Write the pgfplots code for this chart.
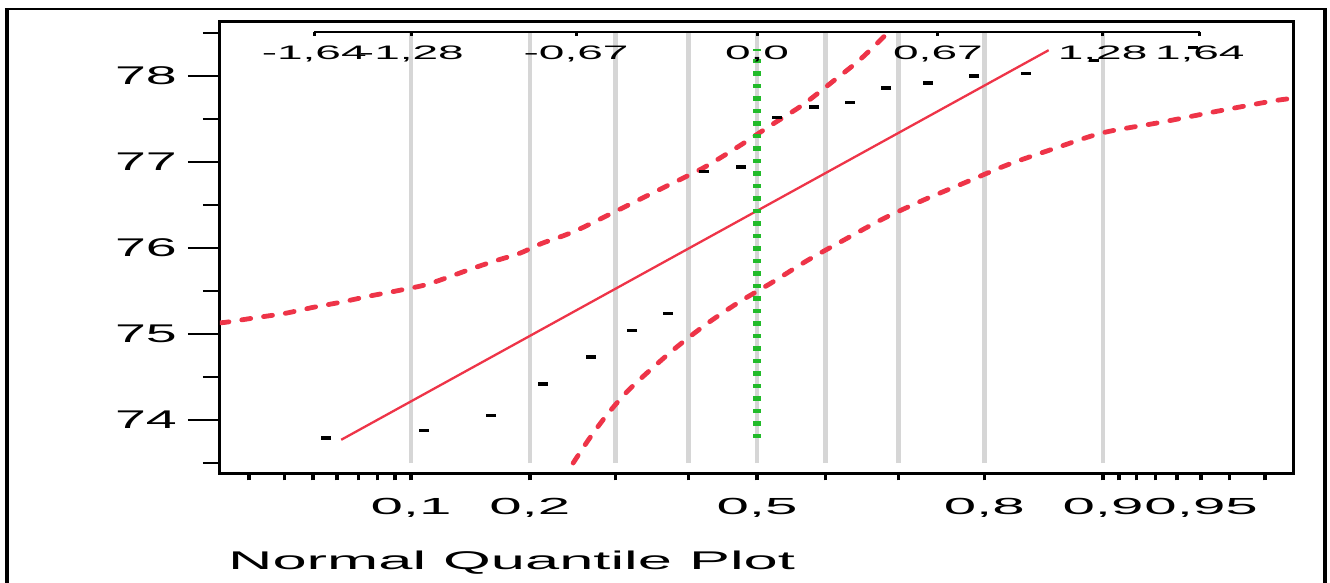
\documentclass[border=0pt]{standalone}
\usepackage{fontspec}
\setmainfont{Liberation Sans}
\newfontfamily\ylabfont[FakeStretch=2.17]{Liberation Sans}
\newfontfamily\xlabfont[FakeStretch=2.5]{Liberation Sans}
\newfontfamily\toplabfont[FakeStretch=2.36]{Liberation Sans}
\newfontfamily\titlefont[FakeStretch=2.4]{Liberation Sans}
\usepackage{pgfplots}
\pgfplotsset{compat=1.18}
\definecolor{jred}{RGB}{238,52,72}
\definecolor{jgreen}{RGB}{34,187,42}
\definecolor{jgray}{RGB}{214,214,214}

\pgfplotstableread{
z v
-1.989 75.13
-1.959 75.14
-1.856 75.19
-1.748 75.24
-1.644 75.31
-1.541 75.37
-1.437 75.44
-1.337 75.50
-1.230 75.57
-1.144 75.66
-1.056 75.76
-0.970 75.85
-0.878 75.94
-0.800 76.05
-0.711 76.15
-0.644 76.24
-0.489 76.48
-0.348 76.70
-0.200 76.93
-0.074 77.17
0.048 77.42
0.167 77.66
0.278 77.93
0.381 78.19
0.474 78.47
}\upperband

\pgfplotstableread{
z v
-0.681 73.50
-0.622 73.78
-0.556 74.06
-0.478 74.34
-0.389 74.60
-0.293 74.86
-0.181 75.13
-0.067 75.37
0.056 75.60
0.189 75.86
0.326 76.10
0.467 76.34
0.611 76.55
0.770 76.76
0.930 76.97
1.104 77.16
1.281 77.34
1.493 77.46
1.704 77.59
1.911 77.71
1.985 77.74
}\lowerband

\pgfplotstableread{
z v
-1.596 73.79
-1.233 73.88
-0.985 74.05
-0.793 74.42
-0.615 74.73
-0.463 75.04
-0.330 75.24
-0.196 76.89
-0.059 76.94
0.074 77.52
0.211 77.64
0.344 77.69
0.478 77.86
0.633 77.92
0.804 78.00
0.996 78.03
1.248 78.18
1.615 78.33
}\pts

\begin{document}
\begin{tikzpicture}
% main axis
\begin{axis}[
  at={(0pt,0pt)}, anchor=south west,
  scale only axis, width=1073pt, height=451.5pt,
  xmin=-1.989, xmax=1.985, ymin=73.378, ymax=78.628,
  axis line style={line width=3pt, black},
  xtick=\empty,
  ytick={74,75,76,77,78},
  yticklabels={74,75,76,77,78},
  minor ytick={73.5,74.5,75.5,76.5,77.5,78.5},
  ytick pos=left,
  tick align=outside,
  major tick length=32pt, minor tick length=17pt,
  tick style={line width=2.5pt, black},
  yticklabel style={font=\fontsize{25.6}{28}\ylabfont, inner sep=0pt, xshift=-11pt},
]
\addplot[jgray, line width=4.5pt, forget plot] coordinates {(-1.2816,73.5) (-1.2816,78.5)};
\addplot[jgray, line width=4.5pt, forget plot] coordinates {(-0.8416,73.5) (-0.8416,78.5)};
\addplot[jgray, line width=4.5pt, forget plot] coordinates {(-0.5244,73.5) (-0.5244,78.5)};
\addplot[jgray, line width=4.5pt, forget plot] coordinates {(-0.2533,73.5) (-0.2533,78.5)};
\addplot[jgray, line width=4.5pt, forget plot] coordinates {(0,73.5) (0,78.5)};
\addplot[jgray, line width=4.5pt, forget plot] coordinates {(0.2533,73.5) (0.2533,78.5)};
\addplot[jgray, line width=4.5pt, forget plot] coordinates {(0.5244,73.5) (0.5244,78.5)};
\addplot[jgray, line width=4.5pt, forget plot] coordinates {(0.8416,73.5) (0.8416,78.5)};
\addplot[jgray, line width=4.5pt, forget plot] coordinates {(1.2816,73.5) (1.2816,78.5)};

\addplot[jred, line width=4.8pt, line cap=round, dash pattern=on 9pt off 13pt, smooth] table[x=z,y=v] {\upperband};
\addplot[jred, line width=4.8pt, line cap=round, dash pattern=on 9pt off 13pt, smooth] table[x=z,y=v] {\lowerband};
\addplot[jred, line width=2.3pt] coordinates {(-1.54,73.77) (1.08,78.30)};
\addplot[jgreen, line width=7.5pt, line cap=butt, dash pattern=on 4.5pt off 8pt] coordinates {(0,73.79) (0,78.31)};
\addplot[only marks, mark=-, mark size=5pt, mark options={line width=3.5pt, black}] table[x=z,y=v] {\pts};
\end{axis}

% top quantile axis
\begin{axis}[
  at={(94.2pt,0pt)}, anchor=south west,
  scale only axis, width=885.6pt, height=441.5pt,
  xmin=-1.64, xmax=1.64, ymin=0, ymax=1,
  hide y axis, axis x line*=top,
  axis line style={line width=2pt, black},
  xtick={-1.64,-1.28,-0.67,0,0.67,1.28,1.64},
  xticklabels={{-1,64},{-1,28},{-0,67},{0,0},{0,67},{1,28},{1,64}},
  xtick align=inside, major tick length=4pt,
  tick style={line width=3pt, black},
  xticklabel style={font=\fontsize{19.5}{21}\toplabfont, anchor=center, inner sep=0pt, yshift=-21.5pt},
]
\end{axis}

% bottom probability axis
\begin{axis}[
  at={(0pt,0pt)}, anchor=south west,
  scale only axis, width=1073pt, height=451.5pt,
  xmin=-1.989, xmax=1.985, ymin=0, ymax=1,
  hide y axis, axis x line*=bottom,
  axis line style={line width=3pt, black},
  xtick={-1.8808,-1.7507,-1.6449,-1.5548,-1.4758,-1.4051,-1.3408,-1.2816,-0.8416,-0.5244,-0.2533,0,0.2533,0.5244,0.8416,1.2816,1.3408,1.4051,1.4758,1.5548,1.6449,1.7507,1.8808},
  xticklabels={,,,,,,,{0,1},{0,2},,,{0,5},,,{0,8},{0,9},,,,,{0,95},,},
  xtick align=outside, major tick length=7pt,
  tick style={line width=3.5pt, black},
  xticklabel style={font=\fontsize{23.3}{25}\xlabfont, anchor=north, inner sep=0pt, yshift=-18pt},
]
\end{axis}

\node[anchor=base west, inner sep=0pt, font=\fontsize{25.6}{28}\titlefont] at (8pt,-96.5pt) {Normal Quantile Plot};

\draw[line width=4pt] (-213pt,-109.5pt) -- (-213pt,464.5pt);
\draw[line width=2pt] (-215pt,464.5pt) -- (1107pt,464.5pt);
\draw[line width=4pt] (1105pt,464.5pt) -- (1105pt,-109.5pt);

\pgfresetboundingbox
\useasboundingbox (-220pt,-109.5pt) rectangle (1110pt,473.5pt);
\end{tikzpicture}
\end{document}
